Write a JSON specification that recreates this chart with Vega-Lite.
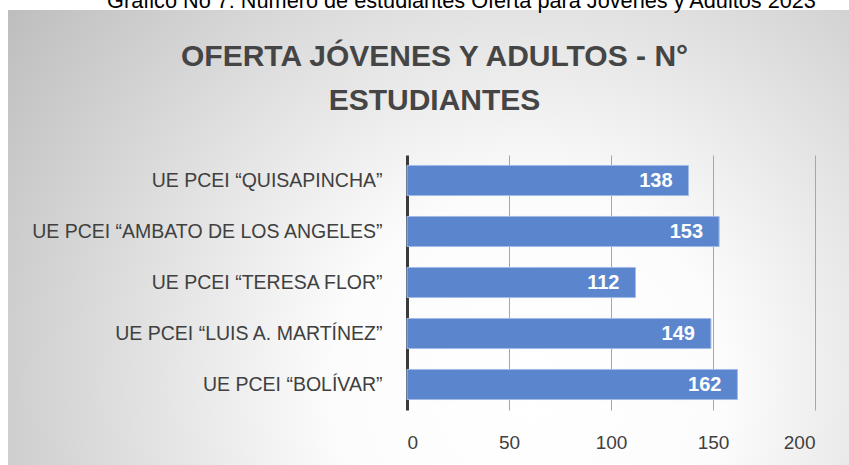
{
  "$schema": "https://vega.github.io/schema/vega-lite/v6.json",
  "width": 841,
  "height": 455,
  "autosize": {"type": "none"},
  "padding": {"left": 8, "top": 10, "right": 0, "bottom": 0},
  "background": "white",
  "view": {
    "stroke": null,
    "fill": {
      "gradient": "radial",
      "x1": 0.62, "y1": 0.68, "r1": 0,
      "x2": 0.62, "y2": 0.68, "r2": 0.78,
      "stops": [
        {"offset": 0, "color": "#ffffff"},
        {"offset": 0.3, "color": "#fcfcfc"},
        {"offset": 1, "color": "#bcbcbc"}
      ]
    }
  },
  "title": {
    "text": ["OFERTA JÓVENES Y ADULTOS - N°", "ESTUDIANTES"],
    "font": "Liberation Sans",
    "fontSize": 30,
    "fontWeight": "bold",
    "color": "#454545",
    "lineHeight": 44,
    "anchor": "middle",
    "frame": "group",
    "offset": -126,
    "dx": 6
  },
  "data": {
    "values": [
      {"escuela": "UE PCEI “QUISAPINCHA”", "n": 138},
      {"escuela": "UE PCEI “AMBATO DE LOS ANGELES”", "n": 153},
      {"escuela": "UE PCEI “TERESA FLOR”", "n": 112},
      {"escuela": "UE PCEI “LUIS A. MARTÍNEZ”", "n": 149},
      {"escuela": "UE PCEI “BOLÍVAR”", "n": 162}
    ]
  },
  "encoding": {
    "y": {
      "field": "escuela",
      "type": "nominal",
      "sort": null,
      "scale": {"range": [145, 400], "paddingInner": 0.41, "paddingOuter": 0.205},
      "axis": {
        "orient": "left",
        "offset": -399,
        "domain": false,
        "ticks": false,
        "tickSize": 0,
        "grid": false,
        "labelPadding": 25,
        "labelLimit": 400,
        "labelFont": "Liberation Sans",
        "labelFontSize": 19.5,
        "labelColor": "#404040",
        "title": "Gráfico No 7: Número de estudiantes Oferta para Jóvenes y Adultos 2023",
        "titleAngle": 0,
        "titleX": 54,
        "titleY": -3,
        "titleAlign": "center",
        "titleBaseline": "alphabetic",
        "titleFont": "Liberation Sans",
        "titleFontSize": 21.7,
        "titleFontWeight": "normal",
        "titleColor": "#000000"
      }
    },
    "x": {
      "field": "n",
      "type": "quantitative",
      "scale": {"domain": [0, 200], "range": [399, 807], "nice": false},
      "axis": {
        "orient": "top",
        "offset": -450,
        "values": [0, 50, 100, 150, 200],
        "domain": false,
        "ticks": false,
        "tickSize": 0,
        "grid": true,
        "gridColor": {"condition": {"test": "datum.value === 0", "value": "#3a3a3a"}, "value": "#a6a6a6"},
        "gridWidth": {"condition": {"test": "datum.value === 0", "value": 3}, "value": 1},
        "labelPadding": 12,
        "labelBaseline": "alphabetic",
        "labelFont": "Liberation Sans",
        "labelFontSize": 19,
        "labelColor": "#404040",
        "title": null
      }
    }
  },
  "layer": [
    {
      "mark": {"type": "bar", "color": "#5b86cd", "stroke": "#a3bbe6", "strokeWidth": 1}
    },
    {
      "mark": {
        "type": "text",
        "align": "right",
        "baseline": "middle",
        "dx": -16,
        "color": "#ffffff",
        "font": "Liberation Sans",
        "fontSize": 20,
        "fontWeight": "bold"
      },
      "encoding": {"text": {"field": "n", "type": "quantitative"}}
    }
  ]
}
